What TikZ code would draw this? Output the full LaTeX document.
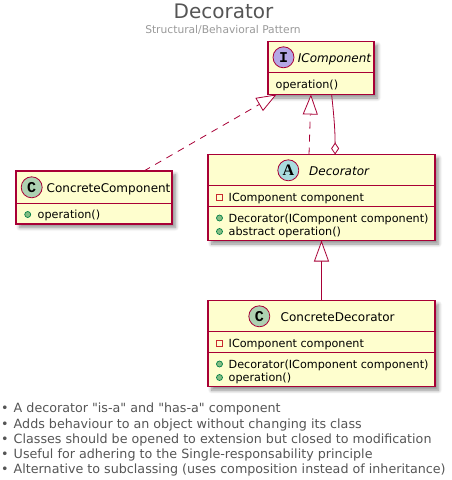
\documentclass[tikz,border=0pt]{standalone}
\usepackage{fontspec}
\setmainfont{DejaVu Sans}
\newfontfamily\notefont{DejaVu Sans}
\newfontfamily\spotfont{Liberation Mono}[BoldFont={Liberation Mono Bold}]
\newfontfamily\spotserif{Liberation Serif}[BoldFont={Liberation Serif Bold}]
\usetikzlibrary{arrows.meta,calc,shadows.blur}

\definecolor{umlred}{HTML}{A80036}
\definecolor{umlyellow}{HTML}{FEFECE}
\definecolor{umlgray}{HTML}{555555}
\definecolor{subgray}{HTML}{999999}
\definecolor{spotc}{HTML}{ADD1B2}
\definecolor{spota}{HTML}{A9DCDF}
\definecolor{spoti}{HTML}{B4A7E5}
\definecolor{pubfill}{HTML}{84BE84}
\definecolor{pubdraw}{HTML}{038048}
\definecolor{privdraw}{HTML}{C82930}

\tikzset{
  classbox/.style={draw=umlred,fill=umlyellow,line width=1.2pt,inner sep=0pt,outer sep=0pt,
    blur shadow={shadow xshift=3.5pt,shadow yshift=-3.5pt,shadow blur steps=8,shadow blur radius=3.5pt,shadow opacity=45}},
  classline/.style={draw=umlred,line width=0.9pt},
  spot/.style={circle,draw=umlred,line width=0.8pt,minimum size=21pt,inner sep=0pt,font=\spotfont\bfseries\fontsize{15}{15}\selectfont},
  classname/.style={anchor=base west,inner sep=0pt,font=\fontsize{12}{14}\selectfont},
  member/.style={anchor=base west,inner sep=0pt,font=\fontsize{11.2}{13}\selectfont},
  pub/.style={circle,draw=pubdraw,fill=pubfill,line width=0.7pt,minimum size=6pt,inner sep=0pt},
  priv/.style={rectangle,draw=privdraw,fill=umlyellow,line width=0.8pt,minimum size=6pt,inner sep=0pt},
  link/.style={draw=umlred,line width=0.8pt},
  realize/.style={link,dash pattern=on 7pt off 6pt,-{Triangle[open,length=20pt,width=15pt,fill=white]}},
  noteline/.style={anchor=base west,inner sep=0pt,text=umlgray,font=\notefont\fontsize{12.7}{15}\selectfont}
}

\begin{document}
\begin{tikzpicture}[x=1pt,y=-1pt]
  \useasboundingbox (0,0) rectangle (452,480);

  % title
  \node[anchor=base,inner sep=0pt,text=umlgray,font=\fontsize{20}{22}\selectfont] (title) at (223.5,18.5) {Decorator};
  \node[anchor=base,inner sep=0pt,text=subgray,font=\fontsize{10.7}{12}\selectfont] (subtitle) at (223,33) {Structural/Behavioral Pattern};

  % classes
  \node[classbox,minimum width=106pt,minimum height=53pt] (icomponent) at (321,68) {};
  \node[classbox,minimum width=156pt,minimum height=53pt] (concretecomponent) at (94,197.5) {};
  \node[classbox,minimum width=227pt,minimum height=86pt] (decorator) at (321.5,197.5) {};
  \node[classbox,minimum width=227pt,minimum height=86pt] (concretedecorator) at (321.5,343.7) {};

  \draw[classline] ([yshift=-31pt]icomponent.north west) -- ([yshift=-31pt]icomponent.north east);
  \draw[classline] ([yshift=-32pt]concretecomponent.north west) -- ([yshift=-32pt]concretecomponent.north east);
  \draw[classline] ([yshift=-31pt]decorator.north west) -- ([yshift=-31pt]decorator.north east);
  \draw[classline] ([yshift=-52pt]decorator.north west) -- ([yshift=-52pt]decorator.north east);
  \draw[classline] ([yshift=-31pt]concretedecorator.north west) -- ([yshift=-31pt]concretedecorator.north east);
  \draw[classline] ([yshift=-52pt]concretedecorator.north west) -- ([yshift=-52pt]concretedecorator.north east);

  % spots
  \node[spot,fill=spoti] (spotic) at (283.5,57.3) {I};
  \node[spot,fill=spotc] (spotcc) at (31.7,187.3) {C};
  \node[spot,fill=spota,font=\spotserif\bfseries\fontsize{16}{16}\selectfont] (spotd) at (288.3,170.3) {A};
  \node[spot,fill=spotc] (spotcd) at (259.3,316.3) {C};

  % names
  \node[classname] (nameic) at (297.7,62) {\itshape IComponent};
  \node[classname] (namecc) at (46.5,192.3) {ConcreteComponent};
  \node[classname] (named) at (309,175.3) {\itshape Decorator};
  \node[classname] (namecd) at (280.5,321.3) {ConcreteDecorator};

  % members
  \node[member] (opic) at (275.5,88) {operation()};

  \node[pub] (pubcc) at (27.7,214.5) {};
  \node[member] (opcc) at (37.5,218.3) {operation()};

  \node[priv] (privd) at (219.5,197) {};
  \node[member] (fieldd) at (228.5,201) {IComponent component};
  \node[pub] (pubd) at (219.5,218) {};
  \node[member] (ctord) at (228.5,222) {Decorator(IComponent component)};
  \node[pub] (pubop) at (219.5,231.5) {};
  \node[member] (opd) at (228.5,235.3) {abstract operation()};

  \node[priv] (privcd) at (219.5,343) {};
  \node[member] (fieldcd) at (228.5,347.3) {IComponent component};
  \node[pub] (pubcd) at (219.5,364) {};
  \node[member] (ctorcd) at (228.5,368) {Decorator(IComponent component)};
  \node[pub] (pubopcd) at (219.5,377.5) {};
  \node[member] (opcd) at (228.5,381.3) {operation()};

  % connectors
  \draw[realize] ($(concretecomponent.north west)!0.82!(concretecomponent.north east)$)
    -- ($(icomponent.south west)!0.08!(icomponent.south east)$);
  \draw[realize] ($(decorator.north west)!0.445!(decorator.north east)$)
    -- ($(icomponent.south west)!0.405!(icomponent.south east)$);
  \draw[link,-{Triangle[open,length=21pt,width=15pt,fill=white]}] (concretedecorator.north) -- (decorator.south);
  \draw[link,-{Diamond[open,length=12pt,width=8pt,fill=white]}] ($(icomponent.south west)!0.6!(icomponent.south east)$)
    .. controls +(2,18) and +(0,-25) .. ($(decorator.north west)!0.56!(decorator.north east)$);

  % notes
  \node[noteline] (note1) at (1,412.3) {• \hspace{1pt}A decorator "is-a" and "has-a" component};
  \node[noteline] (note2) at (1,428) {• \hspace{1pt}Adds behaviour to an object without changing its class};
  \node[noteline] (note3) at (1,443.5) {• \hspace{1pt}Classes should be opened to extension but closed to modification};
  \node[noteline] (note4) at (1,458.3) {• \hspace{1pt}Useful for adhering to the Single-responsability principle};
  \node[noteline] (note5) at (1,473.3) {• \hspace{1pt}Alternative to subclassing (uses composition instead of inheritance)};
\end{tikzpicture}
\end{document}
